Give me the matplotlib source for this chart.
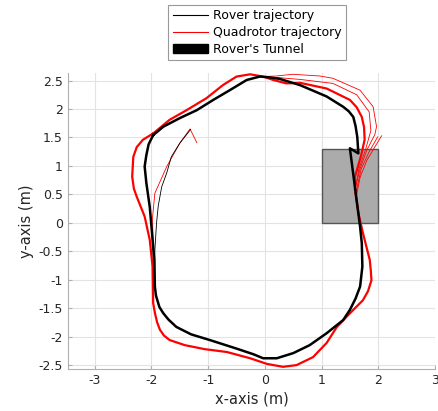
import matplotlib
matplotlib.use("Agg")
import matplotlib.pyplot as plt
import numpy as np
from matplotlib.lines import Line2D
from matplotlib.patches import Patch, Rectangle

# rover loop (counter-clockwise, several laps drawn on top of each other)
rover_x = [-1.97, -2.05, -2.09, -2.12, -2.09, -2.03, -1.99, -1.95, -1.94, -1.92,
           -1.86, -1.79, -1.70, -1.56, -1.30, -0.97, -0.50, -0.20, -0.03, 0.21,
           0.50, 0.79, 1.09, 1.38, 1.50, 1.60, 1.68, 1.72, 1.71, 1.68,
           1.50, 1.65, 1.63, 1.60, 1.56, 1.48, 1.38, 1.09, 0.62, 0.26,
           0.05, -0.09, -0.32, -0.62, -0.91, -1.20, -1.50, -1.79, -1.97]
rover_y = [1.54, 1.38, 1.19, 0.99, 0.70, 0.28, -0.18, -0.65, -1.12, -1.28,
           -1.48, -1.59, -1.70, -1.83, -1.96, -2.06, -2.21, -2.31, -2.38, -2.38,
           -2.29, -2.15, -1.94, -1.71, -1.53, -1.33, -1.12, -0.77, -0.36, -0.07,
           1.31, 1.22, 1.51, 1.70, 1.86, 1.96, 2.04, 2.22, 2.42, 2.53,
           2.56, 2.57, 2.51, 2.33, 2.16, 1.98, 1.84, 1.69, 1.54]

# rover start segment
rover_start_x = [-1.31, -1.50, -1.65, -1.73, -1.82, -1.88, -1.91, -1.94, -1.94]
rover_start_y = [1.64, 1.40, 1.16, 0.88, 0.63, 0.30, 0.00, -0.48, -1.12]

# quadrotor main loop
quad_x = [-1.97, -2.15, -2.26, -2.32, -2.34, -2.31, -2.26, -2.12, -2.03, -1.98,
          -1.97, -1.94, -1.90, -1.85, -1.78, -1.68, -1.41, -1.06, -0.67, -0.26,
          0.04, 0.32, 0.56, 0.85, 1.09, 1.27, 1.50, 1.73, 1.82, 1.88,
          1.87, 1.85, 1.73, 1.65, 1.59, 1.59, 1.70, 1.76, 1.75, 1.71,
          1.62, 1.50, 1.09, 0.62, 0.38, 0.15, -0.03, -0.26, -0.50, -0.74,
          -1.03, -1.38, -1.68, -1.97]
quad_y = [1.57, 1.46, 1.33, 1.16, 0.81, 0.60, 0.46, 0.11, -0.30, -0.77,
          -1.41, -1.58, -1.75, -1.88, -1.98, -2.06, -2.15, -2.22, -2.27, -2.38,
          -2.48, -2.53, -2.50, -2.36, -2.11, -1.83, -1.59, -1.36, -1.20, -1.01,
          -0.85, -0.65, -0.18, 0.17, 0.58, 0.81, 1.19, 1.46, 1.68, 1.86,
          2.03, 2.16, 2.36, 2.46, 2.45, 2.51, 2.57, 2.61, 2.57, 2.42,
          2.19, 1.98, 1.81, 1.57]

# quadrotor outer lap through the upper right
quad_outer_x = [1.59, 1.68, 1.80, 1.94, 1.97, 1.91, 1.68, 1.20, 0.97, 0.49, 0.20, -0.03]
quad_outer_y = [0.58, 0.95, 1.28, 1.55, 1.69, 2.04, 2.33, 2.54, 2.58, 2.61, 2.58, 2.57]

quad_mid_x = [1.59, 1.66, 1.78, 1.87, 1.84, 1.62, 1.20, 0.62, 0.26, -0.03]
quad_mid_y = [0.58, 0.95, 1.30, 1.62, 1.95, 2.25, 2.45, 2.52, 2.55, 2.57]

# quadrotor end of flight
quad_end_x = [1.60, 1.68, 1.80, 1.95, 2.06]
quad_end_y = [0.40, 0.80, 1.10, 1.35, 1.53]
quad_end2_x = [1.60, 1.70, 1.84, 1.99]
quad_end2_y = [0.50, 0.95, 1.25, 1.51]

# quadrotor start segment
quad_start_x = [-1.20, -1.32, -1.50, -1.73, -1.94, -1.98, -1.97, -1.97]
quad_start_y = [1.41, 1.65, 1.40, 0.99, 0.52, 0.11, -0.65, -1.36]

# rover's tunnel
tunnel_x = [1.0, 2.0]
tunnel_y = [0.0, 1.3]


def main():
    plt.rcParams['font.family'] = 'DejaVu Sans'
    fig = plt.figure(figsize=(4.38, 4.11), dpi=100)
    ax = fig.add_axes([0.155, 0.102, 0.838, 0.720])

    ax.add_patch(Rectangle((tunnel_x[0], tunnel_y[0]), tunnel_x[1] - tunnel_x[0],
                           tunnel_y[1] - tunnel_y[0], facecolor='#ababab',
                           edgecolor='#555555', linewidth=1.0, zorder=1))

    ax.plot(quad_x, quad_y, color='red', linewidth=1.6, zorder=2)
    ax.plot(quad_outer_x, quad_outer_y, color='red', linewidth=0.6, zorder=2)
    ax.plot(quad_mid_x, quad_mid_y, color='red', linewidth=0.6, zorder=2)
    ax.plot(quad_end_x, quad_end_y, color='red', linewidth=0.6, zorder=2)
    ax.plot(quad_end2_x, quad_end2_y, color='red', linewidth=0.6, zorder=2)
    ax.plot(quad_start_x, quad_start_y, color='red', linewidth=0.6, zorder=2)

    ax.plot(rover_x, rover_y, color='black', linewidth=1.8, zorder=3)
    ax.plot(rover_start_x, rover_start_y, color='black', linewidth=0.6, zorder=3)

    ax.set_xlim(-3.474, 2.998)
    ax.set_ylim(-2.57, 2.63)
    ax.set_xticks([-3, -2, -1, 0, 1, 2, 3])
    ax.set_xticklabels(['-3', '-2', '-1', '0', '1', '2', '3'])
    yt = [-2.5, -2, -1.5, -1, -0.5, 0, 0.5, 1, 1.5, 2, 2.5]
    ax.set_yticks(yt)
    ax.set_yticklabels(['-2.5', '-2', '-1.5', '-1', '-0.5', '0', '0.5', '1', '1.5', '2', '2.5'])

    ax.grid(True, color='#e3e3e3', linewidth=0.8)
    ax.set_axisbelow(True)
    for s in ['top', 'right']:
        ax.spines[s].set_visible(False)
    for s in ['left', 'bottom']:
        ax.spines[s].set_color('#b0b0b0')
    ax.tick_params(direction='in', length=3, color='#b0b0b0', labelsize=9,
                   labelcolor='#262626')
    ax.set_xlabel('x-axis (m)', fontsize=10.5, color='#262626', labelpad=3)
    ax.set_ylabel('y-axis (m)', fontsize=10.5, color='#262626', labelpad=3)

    handles = [Line2D([], [], color='black', linewidth=0.8),
               Line2D([], [], color='red', linewidth=0.8),
               Patch(facecolor='black', edgecolor='black')]
    labels = ["Rover trajectory", "Quadrotor trajectory", "Rover's Tunnel"]
    leg = fig.legend(handles, labels, loc='upper center',
                     bbox_to_anchor=(257 / 438, 1 - 5 / 411), fontsize=9,
                     fancybox=False, edgecolor='#808080', handlelength=2.8,
                     borderpad=0.35, labelspacing=0.3, handletextpad=0.4,
                     borderaxespad=0)
    leg.get_frame().set_linewidth(0.8)

    fig.savefig('out.png', dpi=100)


if __name__ == "__main__":
    main()
